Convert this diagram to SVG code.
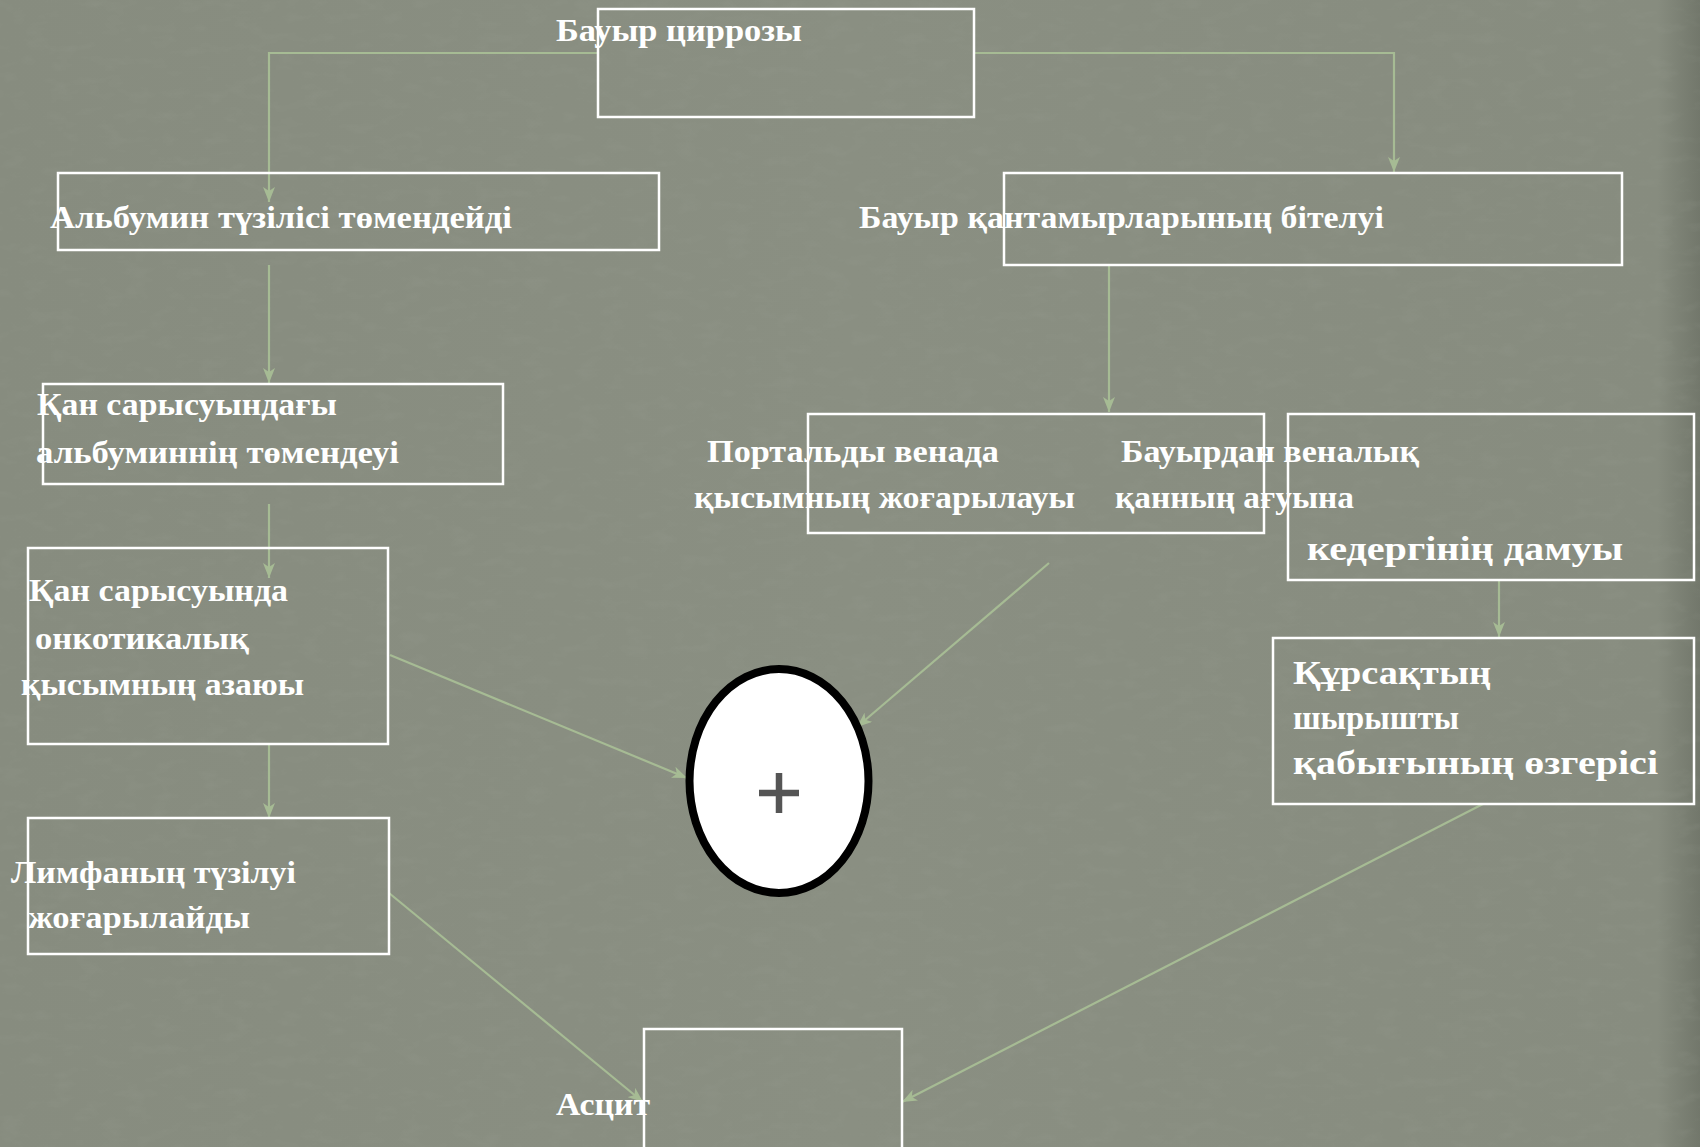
<svg xmlns="http://www.w3.org/2000/svg" width="1700" height="1147" viewBox="0 0 1700 1147">
  <defs>
    <linearGradient id="bg" x1="0" y1="0" x2="1" y2="0">
      <stop offset="0" stop-color="#878c7f"/>
      <stop offset="0.5" stop-color="#8a8f82"/>
      <stop offset="0.975" stop-color="#878c7f"/>
      <stop offset="1" stop-color="#72776b"/>
    </linearGradient>
    <filter id="tex" x="0" y="0" width="100%" height="100%">
      <feTurbulence type="fractalNoise" baseFrequency="0.04 0.09" numOctaves="3" seed="7" result="n"/>
      <feColorMatrix type="matrix" values="0 0 0 0 0.33  0 0 0 0 0.35  0 0 0 0 0.30  0 0 0 -1.6 0.8"/>
    </filter>
    <marker id="arr" markerUnits="userSpaceOnUse" markerWidth="16" markerHeight="12" refX="15" refY="6" orient="auto">
      <path d="M0,0 L15,6 L0,12 L4,6 z" fill="#a6bb94"/>
    </marker>
    <style>
      .box { fill: none; stroke: #ffffff; stroke-width: 2.5; }
      .t { font-family: "Liberation Serif", "DejaVu Serif", serif; font-weight: bold; font-size: 32px; fill: #ffffff; }
      .tl { font-size: 34px; }
      .c { fill: none; stroke: #a6bb94; stroke-width: 2.2; marker-end: url(#arr); }
    </style>
  </defs>

  <rect x="0" y="0" width="1700" height="1147" fill="url(#bg)"/>
  <rect x="0" y="0" width="1700" height="1147" filter="url(#tex)" opacity="0.25"/>

  <g id="connectors">
    <path class="c" d="M598,53 H269 V202"/>
    <path class="c" d="M974,53 H1394 V172"/>
    <path class="c" d="M269,265 V383"/>
    <path class="c" d="M269,504 V578"/>
    <path class="c" d="M269,744 V818"/>
    <path class="c" d="M390,655 L687,778"/>
    <path class="c" d="M389,893 L643,1102"/>
    <path class="c" d="M1109,265 V412"/>
    <path class="c" d="M1049,563 L857,727"/>
    <path class="c" d="M1499,580 V637"/>
    <path class="c" d="M1483,804 L902,1102"/>
  </g>

  <g id="n-cirrhosis">
    <rect class="box" x="598" y="9" width="376" height="108"/>
    <text class="t" x="556" y="41" textLength="246" lengthAdjust="spacingAndGlyphs">Бауыр циррозы</text>
  </g>

  <g id="n-albumin-synth">
    <rect class="box" x="58" y="173" width="601" height="77"/>
    <text class="t" x="50" y="228" textLength="462" lengthAdjust="spacingAndGlyphs">Альбумин түзілісі төмендейді</text>
  </g>

  <g id="n-vessels">
    <rect class="box" x="1004" y="173" width="618" height="92"/>
    <text class="t" x="859" y="228" textLength="525" lengthAdjust="spacingAndGlyphs">Бауыр қантамырларының бітелуі</text>
  </g>

  <g id="n-serum-albumin">
    <rect class="box" x="43" y="384" width="460" height="100"/>
    <text class="t" x="37" y="415" textLength="300" lengthAdjust="spacingAndGlyphs">Қан сарысуындағы</text>
    <text class="t" x="36" y="463" textLength="363" lengthAdjust="spacingAndGlyphs">альбуминнің төмендеуі</text>
  </g>

  <g id="n-oncotic">
    <rect class="box" x="28" y="548" width="360" height="196"/>
    <text class="t" x="29" y="601" textLength="259" lengthAdjust="spacingAndGlyphs">Қан сарысуында</text>
    <text class="t" x="35" y="649" textLength="214" lengthAdjust="spacingAndGlyphs">онкотикалық</text>
    <text class="t" x="21" y="695" textLength="283" lengthAdjust="spacingAndGlyphs">қысымның азаюы</text>
  </g>

  <g id="n-lymph">
    <rect class="box" x="28" y="818" width="361" height="136"/>
    <text class="t" x="11" y="883" textLength="285" lengthAdjust="spacingAndGlyphs">Лимфаның түзілуі</text>
    <text class="t" x="28" y="928" textLength="222" lengthAdjust="spacingAndGlyphs">жоғарылайды</text>
  </g>

  <g id="n-portal">
    <rect class="box" x="808" y="414" width="456" height="119"/>
    <text class="t" x="707" y="462" textLength="292" lengthAdjust="spacingAndGlyphs">Портальды венада</text>
    <text class="t" x="694" y="508" textLength="381" lengthAdjust="spacingAndGlyphs">қысымның жоғарылауы</text>
  </g>

  <g id="n-outflow">
    <rect class="box" x="1288" y="414" width="406" height="166"/>
    <text class="t" x="1121" y="462" textLength="298" lengthAdjust="spacingAndGlyphs">Бауырдан веналық</text>
    <text class="t" x="1115" y="508" textLength="239" lengthAdjust="spacingAndGlyphs">қанның ағуына</text>
    <text class="t tl" x="1307" y="560" textLength="316" lengthAdjust="spacingAndGlyphs">кедергінің дамуы</text>
  </g>

  <g id="n-peritoneum">
    <rect class="box" x="1273" y="638" width="421" height="166"/>
    <text class="t tl" x="1293" y="684" textLength="198" lengthAdjust="spacingAndGlyphs">Құрсақтың</text>
    <text class="t tl" x="1293" y="729" textLength="166" lengthAdjust="spacingAndGlyphs">шырышты</text>
    <text class="t tl" x="1293" y="774" textLength="365" lengthAdjust="spacingAndGlyphs">қабығының өзгерісі</text>
  </g>

  <g id="n-plus">
    <ellipse cx="779" cy="781" rx="89.5" ry="112" fill="#ffffff" stroke="#000000" stroke-width="8"/>
    <path d="M759,793 H799 M779,773 V813" stroke="#555555" stroke-width="6.5" fill="none"/>
  </g>

  <g id="n-ascites">
    <rect class="box" x="644" y="1029" width="258" height="140"/>
    <text class="t" x="556" y="1115" textLength="94" lengthAdjust="spacingAndGlyphs">Асцит</text>
  </g>
</svg>
